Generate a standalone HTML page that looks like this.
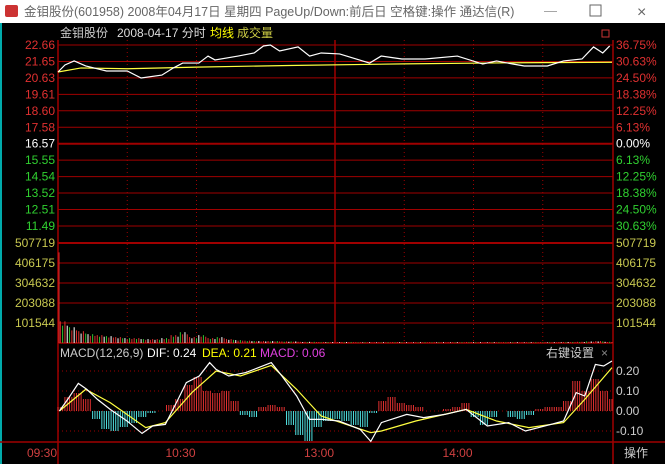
<!DOCTYPE html>
<html><head><meta charset="utf-8"><style>
body{margin:0;width:665px;height:464px;overflow:hidden;background:#000;font-family:"Liberation Sans","Noto Sans CJK SC",sans-serif}
svg{display:block}
</style></head><body>
<svg id="c" width="665" height="464" font-family="Liberation Sans, Noto Sans CJK SC, sans-serif">
<rect x="0" y="0" width="665" height="464" fill="#000"/>
<g>
<rect x="0" y="0" width="665" height="23" fill="#fff"/>
<rect x="5" y="5" width="13" height="12" fill="#c33" rx="2"/>
<text x="24" y="16" font-size="12.5" fill="#666">金钼股份(601958) 2008年04月17日 星期四 PageUp/Down:前后日 空格键:操作 通达信(R)</text>
<text x="544" y="15" font-size="13" fill="#999">—</text>
<rect x="590" y="5" width="11" height="11" fill="none" stroke="#666"/>
<text x="637" y="17" font-size="16" fill="#666">×</text>
</g>
<rect x="0" y="23" width="2" height="441" fill="#0aa"/>
<g font-size="12">
<text x="60" y="37" fill="#ccc">金钼股份</text>
<text x="117" y="37" fill="#ddd">2008-04-17 分时</text>
<text x="210" y="37" fill="#ff0">均线</text>
<text x="237" y="37" fill="#cc4">成交量</text>
<rect x="602" y="30" width="7" height="7" fill="none" stroke="#c33"/>
</g>
<g id="grid"></g>
<g id="marks"></g>
<g id="labels"></g>
<g font-size="12">
<text x="60" y="357" fill="#ccc">MACD(12,26,9)</text>
<text x="147" y="357" fill="#fff">DIF: 0.24</text>
<text x="202" y="357" fill="#ff0">DEA: 0.21</text>
<text x="260" y="357" fill="#e040e0">MACD: 0.06</text>
<text x="546" y="357" fill="#ccc">右键设置</text>
<text x="601" y="357" fill="#888">×</text>
</g>
<g>
<line x1="613" y1="443" x2="613" y2="464" stroke="#a00"/>
<text x="624" y="457" font-size="12" fill="#ccc">操作</text>
</g>
</svg>
<script>
const priceMin=[0,3,7,12,21,30,36,45,50,54,61,65,68,78,85,89,92,96,104,109,114,122,135,140,149,159,173,184,190,197,202,212,219,227,232,236,239];
const price=[21.0,21.43,21.68,21.37,21.06,21.06,20.63,20.81,21.25,21.55,21.55,21.98,21.74,21.98,22.17,22.6,22.66,22.29,22.54,21.98,22.17,22.11,21.55,21.98,21.8,21.8,21.98,21.49,21.68,21.49,21.37,21.37,21.68,21.8,22.54,22.17,22.6];
const avgMin=[0,10,30,60,100,150,200,240];
const avg=[21.0,21.25,21.2,21.3,21.4,21.5,21.57,21.6];
const priceTicks=["22.66","21.65","20.63","19.61","18.60","17.58","16.57","15.55","14.54","13.52","12.51","11.49"];
const pctTicks=["36.75%","30.63%","24.50%","18.38%","12.25%","6.13%","0.00%","6.13%","12.25%","18.38%","24.50%","30.63%"];
const volTicks=[507719,406175,304632,203088,101544];
const openingVolume=460000;
const volumes=[110,80,60,45,40,35,30,25,25,20,20,25,40,55,30,40,25,30,20,15,12,10,10,10,8,8,6,6,5,5,5,5,4,4,4,4,5,4,4,4,4,4,4,4,5,4,4,4,4,4,4,4,4,4,5,5,6,8,10,6];
const difMin=[0.6,4.2,8.8,12.5,17.1,22.6,29.9,36.4,41,46.5,52,55.6,61.2,65.7,68.5,74,81.3,86.9,92.4,97,103.4,108.9,114.4,121.7,130.9,135.5,140.1,151.1,158.4,167.6,176.8,186,195.2,202.5,213.5,219,224.5,228.2,232.8,236.4,240];
const dif=[0,0.058,0.138,0.108,0.058,0.008,-0.05,-0.112,-0.075,-0.067,0.058,0.142,0.175,0.242,0.208,0.175,0.192,0.217,0.242,0.175,0.075,-0.042,-0.042,-0.05,-0.092,-0.152,-0.058,-0.017,-0.033,-0.017,0.008,-0.075,-0.058,-0.1,-0.067,-0.05,0.092,0.075,0.233,0.225,0.25];
const deaMin=[0.6,12,22.6,38,46.5,58,68.5,79,92.4,103.4,114,135.5,140.1,155,176.8,190,204,219,228.2,240];
const dea=[0,0.108,0.042,-0.083,-0.058,0.092,0.2,0.175,0.228,0.108,-0.025,-0.108,-0.1,-0.05,0.008,-0.05,-0.083,-0.058,0.058,0.217];
const macdHist=[0.02,0.07,0.09,0.06,-0.04,-0.09,-0.1,-0.08,-0.06,-0.03,-0.01,0,0.03,0.06,0.13,0.17,0.1,0.09,0.1,0.05,-0.02,-0.03,0.02,0.03,0.02,-0.07,-0.12,-0.15,-0.08,-0.05,-0.04,-0.05,-0.07,-0.08,-0.01,0.05,0.07,0.04,0.03,0.02,0,0,0.01,0.02,0.04,-0.03,-0.07,-0.03,0,-0.03,-0.04,-0.02,0.01,0.02,0.02,0.05,0.15,0.1,0.16,0.1,0.06];
const macdTicks=["0.20","0.10","0.00","-0.10"];
const macdTickVals=[0.2,0.1,0,-0.1];
const timeLabels=["09:30","10:30","13:00","14:00"];
const timeLabelMin=[0,60,120,180];

const NS="http://www.w3.org/2000/svg";
const L=58,R=613;
const x=m=>L+m*(R-1-L)/240;
const yP=p=>45+(22.66-p)*99/6.09;
const yV=v=>343-v*100/507719;
const yM=v=>411-v*200;
function mk(parent,tag,attrs){const e=document.createElementNS(NS,tag);for(const k in attrs)e.setAttribute(k,attrs[k]);document.getElementById(parent).appendChild(e);return e;}
const RED="#a00000";
priceTicks.forEach((t,i)=>{const y=45+i*16.45;const ln=mk('grid','line',{x1:L,x2:R,y1:y,y2:y,stroke:RED,'stroke-width':i==6?2:1});


const col=i<6?"#e03030":(i==6?"#fff":"#30d030");
const tl=mk('labels','text',{x:55,y:y+4,'font-size':12,fill:col,'text-anchor':'end'});tl.textContent=t;


const tr=mk('labels','text',{x:616,y:y+4,'font-size':12,fill:col});tr.textContent=pctTicks[i];

});
volTicks.forEach(v=>{const y=yV(v);const ln=mk('grid','line',{x1:L,x2:R,y1:y,y2:y,stroke:RED,'stroke-width':v==507719?2:1});


[[55,'end'],[616,'start']].forEach(([xx,a])=>{const t=mk('labels','text',{x:xx,y:y+4,'font-size':12,fill:'#c8c850','text-anchor':a});t.textContent=v;

});});
macdTickVals.forEach((v,i)=>{const y=yM(v);const ln=mk('grid','line',{x1:L,x2:R,y1:y,y2:y,stroke:RED,'stroke-dasharray':'1,3'});


const t=mk('labels','text',{x:616,y:y+4,'font-size':12,fill:'#ccc'});t.textContent=macdTicks[i];

});
[30,60,150,180,210].forEach(m=>{const ln=mk('grid','line',{x1:x(m),x2:x(m),y1:40,y2:343,stroke:RED,'stroke-dasharray':'1,3'});

});
[[L,L,40,464],[R,R,40,464],[x(120),x(120),40,343],[L,R,343,343],[0,665,442,442]].forEach(a=>{const ln=mk('grid','line',{x1:a[0],x2:a[1],y1:a[2],y2:a[3],stroke:RED,'stroke-width':1.5});

});
timeLabels.forEach((t,i)=>{const xx=timeLabelMin[i]==0?42:x(timeLabelMin[i])-16;const e=mk('labels','text',{x:xx,y:457,'font-size':12,fill:'#d04040','text-anchor':'middle'});e.textContent=t;

});
function poly(ms,vs,fy,col,name){const p=mk('marks','polyline',{points:ms.map((m,i)=>x(m)+','+fy(vs[i])).join(' '),fill:'none',stroke:col,'stroke-width':1.2});

}
poly(avgMin,avg,yP,'#ffff40','avg-price-line');
poly(priceMin,price,yP,'#fff','price-line');
const cols=['#e03030','#30c030','#e03030','#fff'];
const ov=mk('marks','line',{x1:x(0)+1,x2:x(0)+1,y1:yV(openingVolume),y2:343,stroke:'#e03030'});


volumes.forEach((v,i)=>{for(let k=0;k<4;k++){const xx=x(i*4+k+1);const b=mk('marks','line',{x1:xx,x2:xx,y1:yV(v*1000*(k%2?0.8:1)),y2:343,stroke:cols[(i+k)%4]});

}});
macdHist.forEach((v,i)=>{for(let k=-1;k<=2;k++){const m=i*4+k;if(m<0||m>240)continue;const xx=x(m);const b=mk('marks','line',{x1:xx,x2:xx,y1:yM(0),y2:yM(v),stroke:v>=0?'#e03030':'#50e0e0'});

}});
poly(deaMin,dea,yM,'#ffff40','dea-line');
poly(difMin,dif,yM,'#fff','dif-line');
</script>
</body></html>
